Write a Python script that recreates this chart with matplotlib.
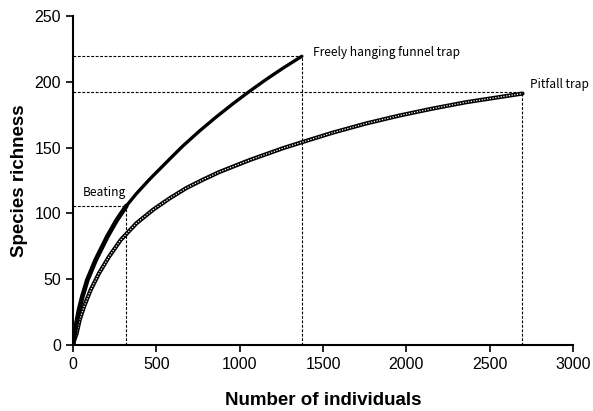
import matplotlib
matplotlib.use("Agg")
from matplotlib import pyplot as plt

plt.rcParams['font.family'] = ['Liberation Sans', 'DejaVu Sans']

# values
funnel_x = [1, 5, 15, 36, 56, 86, 136, 206, 260, 320, 380, 460, 580, 659, 760, 860, 960, 1059, 1160, 1259, 1373]
funnel_y = [1, 5, 13, 26.8, 36.9, 49.5, 64.7, 82.5, 94.5, 105.7, 115, 126, 141.3, 151.2, 162.7, 173.3, 183.3, 192.7, 201.8, 210.2, 219.3]

beating_x = [1, 5, 15, 36, 56, 86, 136, 206, 260, 320]
beating_y = [1, 5, 13, 26.8, 36.9, 49.5, 64.7, 82.5, 94.5, 105.7]

pitfall_x = [1, 8, 22, 40, 66, 106, 156, 216, 286, 380, 480, 580, 680, 779, 879, 1059,
             1259, 1379, 1558, 1759, 1958, 2158, 2358, 2558, 2697]
pitfall_y = [1, 4, 9.1, 19.2, 29.3, 42, 54.6, 67.2, 79.9, 92.5, 102.8, 111.5, 119.3, 125.6, 131.5, 140.5,
             149.5, 154.3, 161.3, 168.3, 174.3, 179.6, 184.4, 188.3, 191]

# end points used for the dashed guides
ends = [(320, 105.7), (1375, 219.6), (2695, 192.3)]
labels = ["Beating", "Freely hanging funnel trap", "Pitfall trap"]
label_pos = [(60, 116), (1440, 222), (2740, 198)]

fig = plt.figure(figsize=(5.93, 4.11), dpi=100)
ax = fig.add_axes([0.1231, 0.1599, 0.8432, 0.8017])

for ex, ey in ends:
    ax.plot([0, ex], [ey, ey], color='black', lw=0.8, ls=(0, (2.5, 1.5)))
    ax.plot([ex, ex], [0, ey], color='black', lw=0.8, ls=(0, (2.5, 1.5)))

# pitfall: open-circle look
ax.plot(pitfall_x, pitfall_y, color='black', lw=3.0, solid_capstyle='round', solid_joinstyle='round')
ax.plot(pitfall_x, pitfall_y, color='white', lw=0.9, ls=(0, (1, 1.2)))
ax.plot(funnel_x, funnel_y, color='black', lw=2.4, solid_capstyle='round', solid_joinstyle='round')
ax.plot(beating_x, beating_y, color='black', lw=3.4, solid_capstyle='round', solid_joinstyle='round')

for (lx, ly), txt in zip(label_pos, labels):
    ax.text(lx, ly, txt, fontsize=8.6, family=['Noto Sans CJK KR', 'DejaVu Sans'], va='center')

ax.set_xlim(0, 3000)
ax.set_ylim(0, 250)
ax.set_xticks(range(0, 3001, 500))
ax.set_yticks(range(0, 251, 50))
ax.spines['top'].set_visible(False)
ax.spines['right'].set_visible(False)
ax.spines['left'].set_linewidth(1.5)
ax.spines['bottom'].set_linewidth(1.5)
ax.tick_params(direction='out', length=5, width=1.2, labelsize=11.5)
ax.set_xlabel("Number of individuals", fontsize=13.5, fontweight='bold', labelpad=14)
ax.set_ylabel("Species richness", fontsize=13.5, fontweight='bold', labelpad=5)

fig.savefig("out.png", dpi=100)
